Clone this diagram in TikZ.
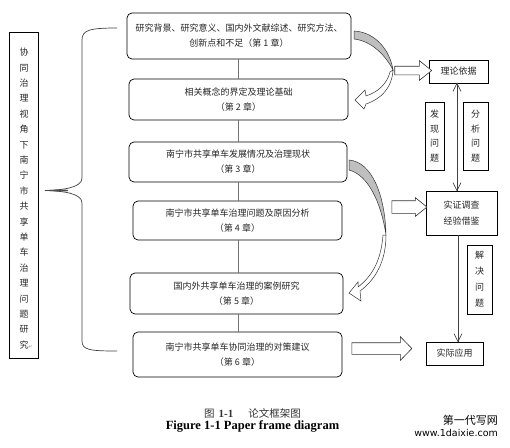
\documentclass[tikz,border=0pt]{standalone}
\usepackage{fontspec}
\setmainfont{Liberation Serif}
\newfontfamily\cjk{Noto Sans CJK SC}
\newfontfamily\wmfont{DejaVu Sans}
\usetikzlibrary{shapes.arrows}
\begin{document}
\begin{tikzpicture}[x=1pt,y=-1pt,
  mbox/.style={draw=black, line width=0.7pt, rounded corners=5pt, fill=white, text=black!85,
    font=\cjk\fontsize{9}{15}\selectfont, align=center, inner sep=0pt},
  rbox/.style={draw=black, line width=0.7pt, fill=white, text=black!85,
    font=\cjk\fontsize{9}{15}\selectfont, align=center, inner sep=0pt},
  vbox/.style={rbox, font=\cjk\fontsize{9}{14.7}\selectfont},
  link/.style={draw=black!55, line width=0.7pt},
  varrow/.style={draw=black!75, line width=0.7pt},
  barrow/.style={single arrow, draw=black!80, line width=0.6pt, fill=white, inner sep=0pt, anchor=center},
  cgray/.style={draw=black!80, line width=0.5pt, fill=black!25},
  cwhite/.style={draw=black!80, line width=0.5pt, fill=white}
]
\useasboundingbox (0,0) rectangle (510,447);

% left box
\node[draw=black, line width=0.7pt, minimum width=29pt, minimum height=326pt, inner sep=0pt] (lb) at (24,195) {};
\node[font=\cjk\fontsize{9}{15.4}\selectfont, align=center, text=black!85, inner sep=0pt] (lt) at (24,198.5)
 {协\\同\\治\\理\\视\\角\\下\\南\\宁\\市\\共\\享\\单\\车\\治\\理\\问\\题\\研\\究\rlap{\textcolor{black!45}{\wmfont\fontsize{5}{6}\selectfont ↵}}};

% brace
\draw[black!75, line width=0.7pt] (117,28) .. controls (90,28) and (82,30) .. (82,40) -- (82,178)
  .. controls (82,188) and (62,190) .. (45,190.5)
  .. controls (62,191) and (82,193) .. (82,203) -- (82,341)
  .. controls (82,350) and (90,351) .. (117,351);
\fill[black!70] (45,190.5) .. controls (52,189.6) and (60,189.5) .. (68,189.8) -- (68,191.2) .. controls (60,191.5) and (52,191.4) .. (45,190.5) -- cycle;

% main boxes
\node[mbox, minimum width=224pt, minimum height=46pt] (b1) at (239,36)
 {研究背景、研究意义、国内外文献综述、研究方法、\\创新点和不足（第 1 章）};
\node[mbox, minimum width=219pt, minimum height=41pt] (b2) at (238.5,99.5)
 {相关概念的界定及理论基础\\（第 2 章）};
\node[mbox, minimum width=218pt, minimum height=40pt] (b3) at (238,162)
 {南宁市共享单车发展情况及治理现状\\（第 3 章）};
\node[mbox, minimum width=209pt, minimum height=39pt] (b4) at (237.5,220.5)
 {南宁市共享单车治理问题及原因分析\\（第 4 章）};
\node[mbox, minimum width=213pt, minimum height=41pt] (b5) at (236.5,293.5)
 {国内外共享单车治理的案例研究\\（第 5 章）};
\node[mbox, minimum width=209pt, minimum height=45pt] (b6) at (237.5,354.5)
 {南宁市共享单车协同治理的对策建议\\（第 6 章）};

\coordinate (lx) at (238,0);
\draw[link] (b1.south -| lx) -- (b2.north -| lx);
\draw[link] (b2.south -| lx) -- (b3.north -| lx);
\draw[link] (b3.south -| lx) -- (b4.north -| lx);
\draw[link] (b4.south -| lx) -- (b5.north -| lx);
\draw[link] (b5.south -| lx) -- (b6.north -| lx);

% right boxes
\node[rbox, minimum width=59pt, minimum height=23pt] (r1) at (458.5,71.5) {理论依据};
\node[vbox, minimum width=19pt, minimum height=68pt] (r2) at (434.5,136) {发\\现\\问\\题};
\node[vbox, minimum width=25pt, minimum height=68pt] (r3) at (475.5,136) {分\\析\\问\\题};
\node[rbox, minimum width=71pt, minimum height=44pt, font=\cjk\fontsize{9}{16}\selectfont] (r4) at (461.5,213) {实证调查\\经验借鉴};
\node[vbox, minimum width=25pt, minimum height=69pt, font=\cjk\fontsize{9}{16}\selectfont] (r5) at (479.5,279.5) {解\\决\\问\\题};
\node[rbox, minimum width=57pt, minimum height=23pt] (r6) at (454.5,353.5) {实际应用};

\coordinate (ax) at (457,0);
\coordinate (bx) at (458,0);
\draw[varrow] (r1.south -| ax) -- (r4.north -| ax);
\draw[varrow] (r1.south -| ax) ++(-4,8) -- ++(4,-8) -- ++(4,8);
\draw[varrow] (r4.north -| ax) ++(-4,-8) -- ++(4,8) -- ++(4,-8);
\draw[varrow] (r4.south -| bx) -- (r6.north -| bx);
\draw[varrow] (r6.north -| bx) ++(-4,-8) -- ++(4,8) -- ++(4,-8);

% block arrows
\node[barrow, minimum height=37pt, minimum width=19pt, single arrow head extend=5.5pt, single arrow tip angle=77, inner ysep=4pt] (a1) at (410.5,70.5) {};
\node[barrow, minimum height=35pt, minimum width=18pt, single arrow head extend=3pt, single arrow tip angle=78, inner ysep=6pt] (a2) at (405.5,207) {};
\node[barrow, minimum height=60pt, minimum width=23pt, single arrow head extend=6pt, single arrow tip angle=92, inner ysep=5.5pt] (a3) at (379,348.5) {};

% curved arrow 1
\draw[cgray] (354,31) .. controls (375,32) and (390,50) .. (393,70)
  .. controls (386,56) and (372,41) .. (354,39) -- cycle;
\draw[cwhite] (393,70) .. controls (392,88) and (381,99) .. (366,104) -- (364,109) -- (355,100) -- (365,90)
  -- (366,96) .. controls (378,92) and (387,84) .. (390,72) -- cycle;
% curved arrow 2
\draw[cgray] (349,160) .. controls (372,162) and (385,195) .. (386,235)
  .. controls (381,202) and (368,175) .. (349,170) -- cycle;
\draw[cwhite] (386,235) .. controls (386,262) and (375,280) .. (360,291) -- (361,301) -- (349,293) -- (358,282)
  -- (358,287) .. controls (371,277) and (381,262) .. (383,235) -- cycle;

% caption
\node[font=\fontsize{11}{12}\selectfont, text=black!80, inner sep=0pt] (cap1) at (252.5,413)
 {{\cjk\fontsize{10.5}{12}\selectfont 图}\hspace{4pt}\textbf{1-1}\hspace{15pt}{\cjk\fontsize{10.5}{12}\selectfont 论文框架图}};
\node[font=\bfseries\fontsize{12.5}{14}\selectfont, inner sep=0pt] (cap2) at (252.5,426)
 {Figure 1-1 Paper frame diagram};

% watermark
\node[font=\cjk\fontsize{11}{12}\selectfont, inner sep=0pt, anchor=east] (wm1) at (498,420) {第一代写网};
\node[font=\wmfont\fontsize{9.5}{11}\selectfont, inner sep=0pt, anchor=east] (wm2) at (498,433) {www.1daixie.com};
\end{tikzpicture}
\end{document}
